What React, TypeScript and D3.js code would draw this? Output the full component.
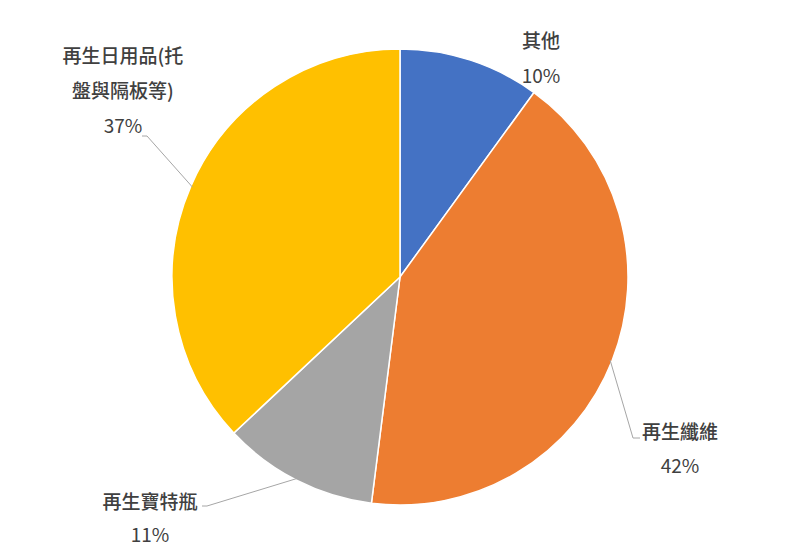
import React from "react";
import * as d3 from "d3";

const categories = ["其他", "再生纖維", "再生寶特瓶", "再生日用品(托盤與隔板等)"];
const values = [10, 42, 11, 37];
const colors = ["#4472C4", "#ED7D31", "#A5A5A5", "#FFC000"];
const labelLines = [["其他"], ["再生纖維"], ["再生寶特瓶"], ["再生日用品(托", "盤與隔板等)"]];
const pctLabels = ["10%", "42%", "11%", "37%"];

// label layout (center x, first-line baseline, line gap)
const labelPos = [
  { x: 541, y: 48, gap: 35 },
  { x: 680, y: 439, gap: 34 },
  { x: 150, y: 509, gap: 33 },
  { x: 123, y: 63, gap: 35 },
];
// leader lines: label anchor, elbow -> pie edge at slice centroid
const leaders: ([number, number][] | null)[] = [
  null,
  [[640, 438], [633, 438]],
  [[202, 506], [207, 506]],
  [[142, 136], [147, 136]],
];

export default function App() {
  const width = 800, height = 555;
  const cx = 400, cy = 277, r = 228;
  const pie = d3.pie<number>().sort(null).value((d) => d)(values);
  const arc = d3.arc<d3.PieArcDatum<number>>().innerRadius(0).outerRadius(r);
  const font = "'Noto Sans CJK TC', 'Noto Sans', sans-serif";
  return (
    <svg width={width} height={height} style={{ position: "absolute", left: 0, top: 0 }}>
      <rect width={width} height={height} fill="#fff" />
      <g transform={`translate(${cx},${cy})`}>
        {pie.map((p, i) => (
          <path key={i} d={arc(p) || ""} fill={colors[i]} stroke="#fff" strokeWidth={1.5} />
        ))}
      </g>
      {pie.map((p, i) => {
        const L = leaders[i];
        if (!L) return null;
        const a = (p.startAngle + p.endAngle) / 2;
        const ex = cx + Math.sin(a) * (r - 2);
        const ey = cy - Math.cos(a) * (r - 2);
        const pts = [...L, [ex, ey]] as [number, number][];
        return (
          <path key={"l" + i} d={d3.line()(pts) || ""} fill="none" stroke="#A6A6A6" strokeWidth={1} />
        );
      })}
      {categories.map((c, i) => {
        const pos = labelPos[i];
        const lines = labelLines[i];
        return (
          <g key={"t" + i} fontFamily={font} fontSize={19} fill="#404040" textAnchor="middle">
            {lines.map((ln, j) => (
              <text key={j} x={pos.x} y={pos.y + j * pos.gap} fontWeight={500}>{ln}</text>
            ))}
            <text x={pos.x} y={pos.y + lines.length * pos.gap}>{pctLabels[i]}</text>
          </g>
        );
      })}
    </svg>
  );
}
